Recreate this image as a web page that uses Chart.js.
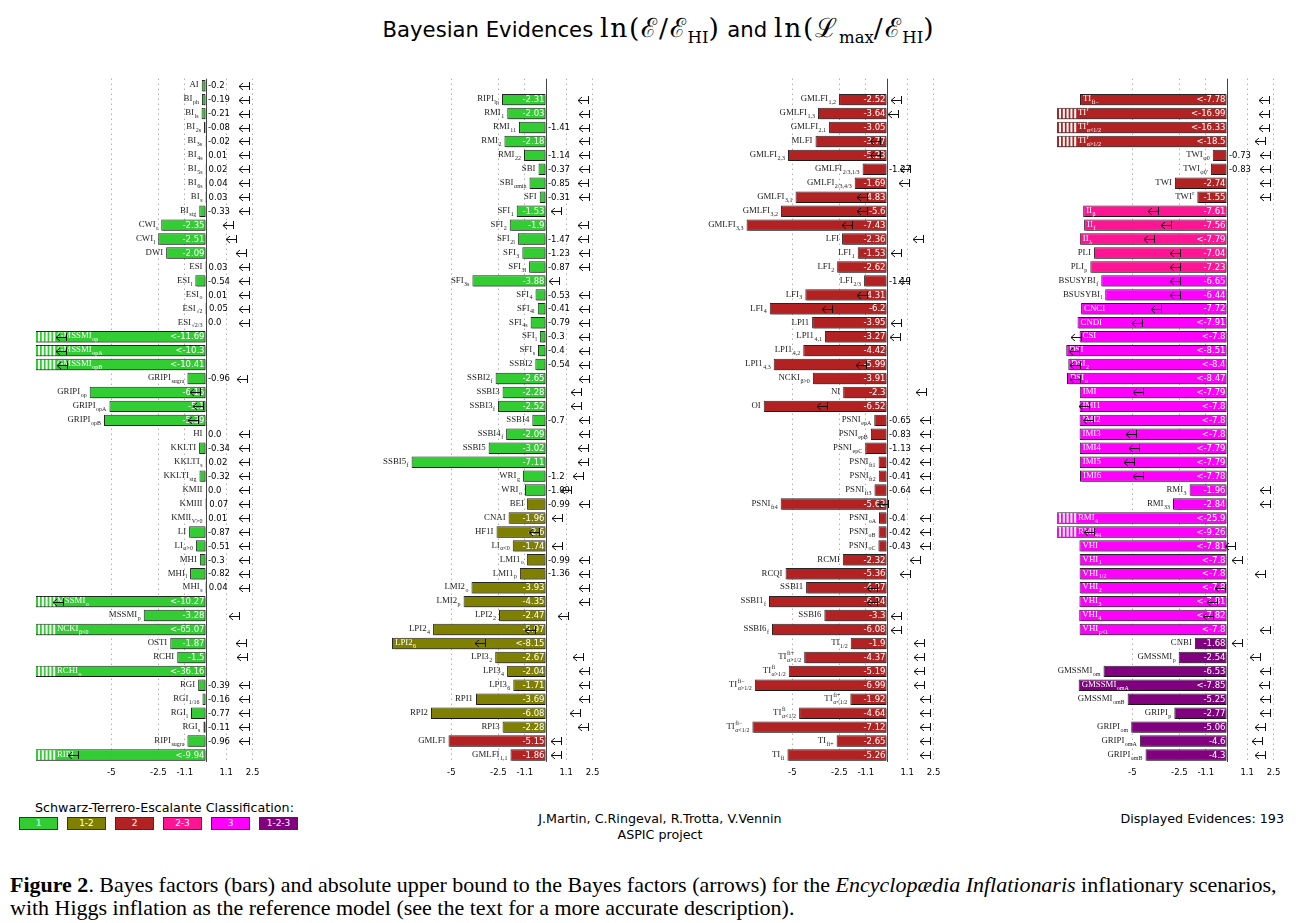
<!DOCTYPE html>
<html>
<head>
<meta charset="utf-8">
<script src="https://cdn.jsdelivr.net/npm/chart.js@4.4.1/dist/chart.umd.min.js"></script>
<style>
  body { margin: 0; background: #fff; width: 1306px; height: 923px; position: relative; overflow: hidden; font-family: "DejaVu Sans", sans-serif; }
  .panel { position: absolute; top: 70px; width: 246px; height: 720px; }
  #title { position: absolute; left: 0; width: 1318px; top: 9px; text-align: center; font-size: 21.2px; white-space: nowrap; }
  #title .m { font-family: "DejaVu Serif", serif; font-size: 26.5px; letter-spacing: 1.8px; }
  #title sub { font-size: 16.5px; letter-spacing: 0; }
  .foot { position: absolute; font-size: 12.7px; white-space: nowrap; }
  .box { position: absolute; top: 817px; height: 11px; width: 37px; border: 1px solid #333; color: #fff; font-size: 9px; line-height: 11px; text-align: center; }
  #cap { position: absolute; left: 10px; top: 873px; font-family: "Liberation Serif", serif; font-size: 18.5px; line-height: 23px; white-space: nowrap; }
  #cap span { display: inline-block; }
</style>
</head>
<body>
<div id="title">Bayesian Evidences <span class="m">ln(ℰ/ℰ<sub>HI</sub>)</span> and <span class="m">ln(ℒ<sub>max</sub>/ℰ<sub>HI</sub>)</span></div>

<div class="panel" style="left:26px"><canvas id="c0" width="246" height="720"></canvas></div>
<div class="panel" style="left:366px"><canvas id="c1" width="246" height="720"></canvas></div>
<div class="panel" style="left:707px"><canvas id="c2" width="246" height="720"></canvas></div>
<div class="panel" style="left:1047px"><canvas id="c3" width="246" height="720"></canvas></div>

<div class="foot" style="left:35px;top:800px">Schwarz-Terrero-Escalante Classification:</div>
<div id="legend"></div>
<div class="foot" style="left:0;width:1320px;text-align:center;top:811px">J.Martin, C.Ringeval, R.Trotta, V.Vennin</div>
<div class="foot" style="left:0;width:1320px;text-align:center;top:827px">ASPIC project</div>
<div class="foot" style="right:22px;top:811px">Displayed Evidences: 193</div>

<div id="cap"><span id="cap1"><b>Figure 2</b>. Bayes factors (bars) and absolute upper bound to the Bayes factors (arrows) for the <i>Encyclopædia Inflationaris</i> inflationary scenarios,</span><br><span id="cap2">with Higgs inflation as the reference model (see the text for a more accurate description).</span></div>

<script>
// axis
const tickValues = [-5, -2.5, -1.1, 1.1, 2.5];
const axisMin = -9, axisMax = 3;

// Schwarz-Terrero-Escalante classes: a=1 b=1-2 c=2 d=2-3 e=3 f=1-2-3
const classKeys = ['a', 'b', 'c', 'd', 'e', 'f'];
const classNames = ['1', '1-2', '2', '2-3', '3', '1-2-3'];
const classColors = ['#32cd32', '#808000', '#b22222', '#ff1493', '#ff00ff', '#800080'];

// column 1
const col1Names = ['AI','BI_{ph}','BI_{ls}','BI_{2s}','BI_{3s}','BI_{4s}','BI_{5s}','BI_{6s}','BI_{s}','BI_{stg}',
  'CWI_{r}','CWI_{l}','DWI','ESI','ESI_{l}','ESI_{o}','ESI_{√2}','ESI_{√2/3}','GMSSMI_{op}','GMSSMI_{opA}',
  'GMSSMI_{opB}','GRIPI_{sugra}','GRIPI_{op}','GRIPI_{opA}','GRIPI_{opB}','HI','KKLTI','KKLTI_{s}','KKLTI_{stg}','KMII',
  'KMIII','KMII_{V>0}','LI','LI_{α>0}','MHI','MHI_{l}','MHI_{s}','MSSMI_{o}','MSSMI_{p}','NCKI_{β<0}',
  'OSTI','RCHI','RCHI_{o}','RGI','RGI_{1/16}','RGI_{l}','RGI_{s}','RIPI_{sugra}','RIPI'];
const col1Evidence = [-0.2,-0.19,-0.21,-0.08,-0.02,0.01,0.02,0.04,0.03,-0.33,
  -2.35,-2.51,-2.09,0.03,-0.54,0.01,0.05,0.0,-11.69,-10.3,
  -10.41,-0.96,-6.15,-5.1,-5.39,0.0,-0.34,0.02,-0.32,0.0,
  0.07,0.01,-0.87,-0.51,-0.3,-0.82,0.04,-10.27,-3.28,-65.07,
  -1.87,-1.5,-36.16,-0.39,-0.16,-0.77,-0.11,-0.96,-9.94];
const col1Bound = [2.33,2.33,2.33,2.33,2.33,2.33,2.33,2.33,2.33,2.33,
  1.48,1.62,2.15,2.33,2.33,2.33,2.33,2.33,-7.4,-7.4,
  -7.37,2.22,-0.3,-0.15,-0.42,2.33,2.33,2.33,2.33,2.33,
  2.33,2.33,2.33,2.33,2.33,2.33,2.33,-7.55,1.76,null,
  2.15,2.22,null,2.33,2.33,2.33,2.33,2.33,-6.75];
const col1Class = 'aaaaaaaaaaaaaaaaaaaaaaaaaaaaaaaaaaaaaaaaaaaaaaaaa';

// column 2
const col2Names = ['RIPI_{lp}','RMI_{1}','RMI_{11}','RMI_{2}','RMI_{22}','SBI','SBI_{αmin}','SFI','SFI_{1}','SFI_{2}',
  'SFI_{2l}','SFI_{3}','SFI_{3l}','SFI_{3s}','SFI_{4}','SFI_{4l}','SFI_{4s}','SFI_{l}','SFI_{s}','SSBI2',
  'SSBI2_{f}','SSBI3','SSBI3_{f}','SSBI4','SSBI4_{f}','SSBI5','SSBI5_{f}','WRI_{g}','WRI_{o}','BEI',
  'CNAI','HF1I','LI_{α<0}','LMI1_{o}','LMI1_{p}','LMI2_{o}','LMI2_{p}','LPI2_{2}','LPI2_{4}','LPI2_{6}',
  'LPI3_{2}','LPI3_{4}','LPI3_{6}','RPI1','RPI2','RPI3','GMLFI','GMLFI_{1,1}'];
const col2Evidence = [-2.31,-2.03,-1.41,-2.18,-1.14,-0.37,-0.85,-0.31,-1.53,-1.9,
  -1.47,-1.23,-0.87,-3.88,-0.53,-0.41,-0.79,-0.3,-0.4,-0.54,
  -2.65,-2.28,-2.52,-0.7,-2.09,-3.02,-7.11,-1.2,-1.09,-0.99,
  -1.96,-2.6,-1.74,-0.99,-1.36,-3.93,-4.35,-2.47,-5.97,-8.15,
  -2.67,-2.04,-1.71,-3.69,-6.08,-2.28,-5.15,-1.86];
const col2Bound = [2.24,2.33,2.33,2.33,2.33,2.33,2.24,2.33,0.83,2.24,
  2.24,2.33,2.33,0.7,2.33,2.33,2.33,2.33,2.33,2.33,
  2.29,1.89,1.89,2.33,2.33,2.24,2.24,1.98,1.36,2.33,
  0.88,-0.32,0.88,2.33,2.33,2.33,2.33,1.18,-0.55,-3.23,
  1.98,2.33,2.33,2.33,1.83,2.24,0.83,0.83];
const col2Class = 'aaaaaaaaaaaaaaaaaaaaaaaaaaaaabbbbbbbbbbbbbbbbbcc';

// column 3
const col3Names = ['GMLFI_{1,2}','GMLFI_{1,3}','GMLFI_{2,1}','MLFI','GMLFI_{2,3}','GMLFI_{2/3,1/3}','GMLFI_{2/3,4/3}','GMLFI_{3,1}','GMLFI_{3,2}','GMLFI_{3,3}',
  'LFI','LFI_{1}','LFI_{2}','LFI_{2/3}','LFI_{3}','LFI_{4}','LPI1','LPI1_{4,1}','LPI1_{4,2}','LPI1_{4,3}',
  'NCKI_{β>0}','NI','OI','PSNI_{epA}','PSNI_{epB}','PSNI_{epC}','PSNI_{ft1}','PSNI_{ft2}','PSNI_{ft3}','PSNI_{ft4}',
  'PSNI_{oA}','PSNI_{oB}','PSNI_{oC}','RCMI','RCQI','SSBI1','SSBI1_{f}','SSBI6','SSBI6_{f}','TI_{1/2}',
  'TI^{fi+}_{α>1/2}','TI^{fi}_{α>1/2}','TI^{fi−}_{α>1/2}','TI^{fi+}_{α<1/2}','TI^{fi}_{α<1/2}','TI^{fi−}_{α<1/2}','TI_{fi+}','TI_{fi}'];
const col3Evidence = [-2.52,-3.64,-3.05,-3.77,-5.23,-1.27,-1.69,-4.83,-5.6,-7.43,
  -2.36,-1.53,-2.62,-1.19,-4.31,-6.2,-3.95,-3.27,-4.42,-5.99,
  -3.91,-2.3,-6.52,-0.65,-0.83,-1.13,-0.42,-0.41,-0.64,-5.62,
  -0.4,-0.42,-0.43,-2.32,-5.36,-4.27,-6.24,-3.3,-6.08,-1.9,
  -4.37,-5.19,-6.99,-1.92,-4.64,-7.12,-2.65,-5.26];
const col3Bound = [0.79,0.62,null,-0.35,-0.35,1.23,1.2,-1.06,-1.06,-1.85,
  1.94,0.79,null,1.2,-1.06,-2.91,0.79,0.7,null,-1.09,
  null,2.08,-3.17,2.29,2.29,2.29,2.29,2.29,2.29,0.1,
  2.29,2.29,2.29,1.76,1.27,-0.53,-0.53,0.79,0.79,1.97,
  1.97,1.97,1.97,2.29,2.29,2.29,2.29,2.29];
const col3Class = 'cccccccccccccccccccccccccccccccccccccccccccccccc';

// column 4
const col4Names = ['TI_{fi−}','TI^{r}','TI^{r}_{α<1/2}','TI^{r}_{α>1/2}','TWI_{φ0}',"TWI_{φ0'}",'TWI','TWI^{r}','II_{β}','II_{f}',
  'II_{λ}','PLI','PLI_{p}','BSUSYBI_{f}','BSUSYBI_{l}','CNCI','CNDI','CSI','DSI','DSI_{2}',
  'DSI_{o}','IMI','IMI1','IMI2','IMI3','IMI4','IMI5','IMI6','RMI_{3}','RMI_{33}',
  'RMI_{4}','RMI_{44}','VHI','VHI_{1}','VHI_{1/2}','VHI_{2}','VHI_{3}','VHI_{4}','VHI_{p<1}','CNBI',
  'GMSSMI_{p}','GMSSMI_{om}','GMSSMI_{omA}','GMSSMI_{omB}','GRIPI_{p}','GRIPI_{om}','GRIPI_{omA}','GRIPI_{omB}'];
const col4Evidence = [-7.78,-16.99,-16.33,-18.5,-0.73,-0.83,-2.74,-1.55,-7.61,-7.56,
  -7.79,-7.04,-7.23,-6.65,-6.44,-7.72,-7.91,-7.8,-8.51,-8.4,
  -8.47,-7.79,-7.8,-7.8,-7.8,-7.79,-7.79,-7.78,-1.96,-2.84,
  -25.9,-9.26,-7.81,-7.8,-7.8,-7.8,-7.81,-7.82,-7.8,-1.68,
  -2.54,-6.53,-7.85,-5.25,-2.77,-5.06,-4.6,-4.3];
const col4Bound = [2.25,2.25,2.25,2.03,2.33,2.33,2.33,2.33,-3.62,-2.96,
  -3.85,-2.47,-2.47,-2.47,-2.47,-3.49,-4.5,-7.72,-7.85,-7.76,
  -7.78,-4.41,-7.32,-7.09,-4.8,-4.62,-4.9,-4.41,2.29,2.29,
  null,-7.06,0.44,0.83,2.03,-0.09,-0.53,-0.71,2.29,0.83,
  1.8,2.29,2.25,2.29,2.33,2.03,1.9,2.03];
const col4Class = 'cccccccc' + 'ddddd' + 'eeeeeeeeee' + 'eeeeeeeeee' + 'eeeeee' + 'fffffffff';

// evidences that are only upper limits (printed with "<")
const upperLimitModels = ['GMSSMI_{op}','GMSSMI_{opA}','GMSSMI_{opB}','MSSMI_{o}','NCKI_{β<0}','RCHI_{o}','RIPI',
  'LPI2_{6}',
  'TI_{fi−}','TI^{r}','TI^{r}_{α<1/2}','TI^{r}_{α>1/2}','II_{λ}','CNDI','CSI','DSI','DSI_{2}','DSI_{o}',
  'IMI','IMI1','IMI2','IMI3','IMI4','IMI5','IMI6','RMI_{4}','RMI_{44}',
  'VHI','VHI_{1}','VHI_{1/2}','VHI_{2}','VHI_{3}','VHI_{4}','VHI_{p<1}','GMSSMI_{omA}'];

const NAME_FONT = '8.8px "Liberation Serif", serif';
const SUB_FONT = '6px "Liberation Serif", serif';
const VALUE_FONT = '8.5px "DejaVu Sans", sans-serif';
const ROWS = 49;

function colorOf(k) { return classColors[classKeys.indexOf(k)]; }

function fmt(v) { return Number.isInteger(v) ? v.toFixed(1) : String(v); }

function drawName(ctx, s, x, y, align, color) {
  const m = s.match(/^([^_^]*)(?:\^\{([^}]*)\})?(?:_\{([^}]*)\})?$/) || [s, s];
  const base = m[1], sup = m[2] || '', sub = m[3] || '';
  ctx.font = NAME_FONT;
  const wb = ctx.measureText(base).width;
  ctx.font = SUB_FONT;
  const ws = Math.max(ctx.measureText(sup).width, ctx.measureText(sub).width);
  const w = wb + (ws ? ws + 0.5 : 0);
  const x0 = align === 'right' ? x - w : x;
  ctx.fillStyle = color;
  ctx.textAlign = 'left';
  ctx.textBaseline = 'alphabetic';
  ctx.font = NAME_FONT;
  ctx.fillText(base, x0, y + 1.8);
  ctx.font = SUB_FONT;
  if (sup) ctx.fillText(sup, x0 + wb + 0.5, y - 2.2);
  if (sub) ctx.fillText(sub, x0 + wb + 0.5, y + 4.6);
}

function drawArrow(ctx, x, y) {
  ctx.strokeStyle = '#111';
  ctx.lineWidth = 1;
  ctx.beginPath();
  ctx.moveTo(x + 0.5, y - 4); ctx.lineTo(x + 0.5, y + 4);
  ctx.moveTo(x, y + 0.5); ctx.lineTo(x - 10, y + 0.5);
  ctx.moveTo(x - 6, y - 3); ctx.lineTo(x - 10, y + 0.5); ctx.lineTo(x - 6, y + 4);
  ctx.stroke();
}

const annotate = {
  id: 'annotate',
  beforeDatasetsDraw(chart) {
    const ctx = chart.ctx;
    ctx.save();
    ctx.shadowColor = 'rgba(0,0,0,0.35)';
    ctx.shadowOffsetX = 1.5;
    ctx.shadowOffsetY = 1.5;
  },
  afterDatasetsDraw(chart) {
    const ctx = chart.ctx;
    ctx.restore();
    const area = chart.chartArea;
    const xs = chart.scales.x;
    const zero = xs.getPixelForValue(0);
    const names = chart.data.labels;
    const vals = chart.data.datasets[0].data;
    const bounds = chart.options.plugins.annotate.bounds;
    const meta = chart.getDatasetMeta(0);

    ctx.save();
    // zero line
    ctx.strokeStyle = '#444';
    ctx.lineWidth = 1;
    ctx.beginPath();
    ctx.moveTo(Math.round(zero) + 0.5, area.top);
    ctx.lineTo(Math.round(zero) + 0.5, area.bottom);
    ctx.stroke();

    meta.data.forEach((el, i) => {
      const v = vals[i];
      if (v === null || v === undefined) return;
      const y = el.y;
      const h = el.height;
      const left = Math.max(Math.min(el.x, el.base), area.left);
      const truncated = v < axisMin;
      const upper = upperLimitModels.includes(names[i]);

      if (truncated) {
        ctx.fillStyle = '#fff';
        for (let k = 0; k < 5; k++) ctx.fillRect(area.left + 2 + k * 3.8, y - h / 2 + 1, 2, h - 2);
      }

      // model name
      if (v < -7.5) drawName(ctx, names[i], left + (truncated ? 21 : 3), y, 'left', '#fff');
      else drawName(ctx, names[i], left - 3, y, 'right', '#222');

      // evidence value
      ctx.font = VALUE_FONT;
      ctx.textBaseline = 'middle';
      const txt = (upper ? '<' : '') + fmt(v);
      if (upper || v <= -1.5) {
        ctx.fillStyle = '#fff';
        ctx.textAlign = 'right';
        ctx.fillText(txt, zero - 1, y + 0.5);
      } else {
        ctx.fillStyle = '#000';
        ctx.textAlign = 'left';
        ctx.fillText(txt, Math.max(el.x, zero) + 2.5, y + 0.5);
      }

      // upper bound arrow
      const b = bounds[i];
      if (b !== null && b !== undefined) drawArrow(ctx, Math.round(xs.getPixelForValue(b)), Math.round(y));
    });
    ctx.restore();
  }
};

function makePanel(id, names, evid, bound, cls) {
  const pad = ROWS - names.length;
  const labels = Array(pad).fill('').concat(names);
  const data = Array(pad).fill(null).concat(evid);
  const bounds = Array(pad).fill(null).concat(bound);
  const colors = Array(pad).fill('#fff').concat(cls.split('').map(colorOf));
  return new Chart(document.getElementById(id), {
    type: 'bar',
    plugins: [annotate],
    data: {
      labels: labels,
      datasets: [{
        data: data,
        backgroundColor: colors,
        borderColor: '#262626',
        borderWidth: 1,
        borderSkipped: false,
        barPercentage: 0.82,
        categoryPercentage: 1.0,
        clip: 0
      }]
    },
    options: {
      indexAxis: 'y',
      responsive: false,
      animation: false,
      devicePixelRatio: 1,
      layout: { padding: { left: 10, right: 10, top: 8.7, bottom: 10 } },
      scales: {
        x: {
          type: 'linear',
          min: axisMin,
          max: axisMax,
          afterBuildTicks: axis => { axis.ticks = tickValues.map(v => ({ value: v })); },
          afterFit: axis => { axis.height = 18; },
          grid: { color: '#8a8a8a', drawTicks: false, lineWidth: 1 },
          border: { display: false, dash: [1, 4] },
          ticks: {
            autoSkip: false,
            maxRotation: 0,
            padding: 6,
            color: '#000',
            font: { family: 'DejaVu Sans', size: 8.5 },
            callback: v => String(v)
          }
        },
        y: { type: 'category', display: false, grid: { display: false } }
      },
      plugins: {
        legend: { display: false },
        tooltip: { enabled: false },
        annotate: { bounds: bounds }
      }
    }
  });
}

makePanel('c0', col1Names, col1Evidence, col1Bound, col1Class);
makePanel('c1', col2Names, col2Evidence, col2Bound, col2Class);
makePanel('c2', col3Names, col3Evidence, col3Bound, col3Class);
makePanel('c3', col4Names, col4Evidence, col4Bound, col4Class);

// classification legend
const legend = document.getElementById('legend');
classNames.forEach((name, i) => {
  const d = document.createElement('div');
  d.className = 'box';
  d.style.left = (19 + i * 48) + 'px';
  d.style.background = classColors[i];
  d.textContent = name;
  legend.appendChild(d);
});

// size the caption so its first line has the printed width
const cap = document.getElementById('cap');
const w1 = document.getElementById('cap1').getBoundingClientRect().width;
cap.style.fontSize = (18.5 * 1267 / w1).toFixed(2) + 'px';
</script>
</body>
</html>
